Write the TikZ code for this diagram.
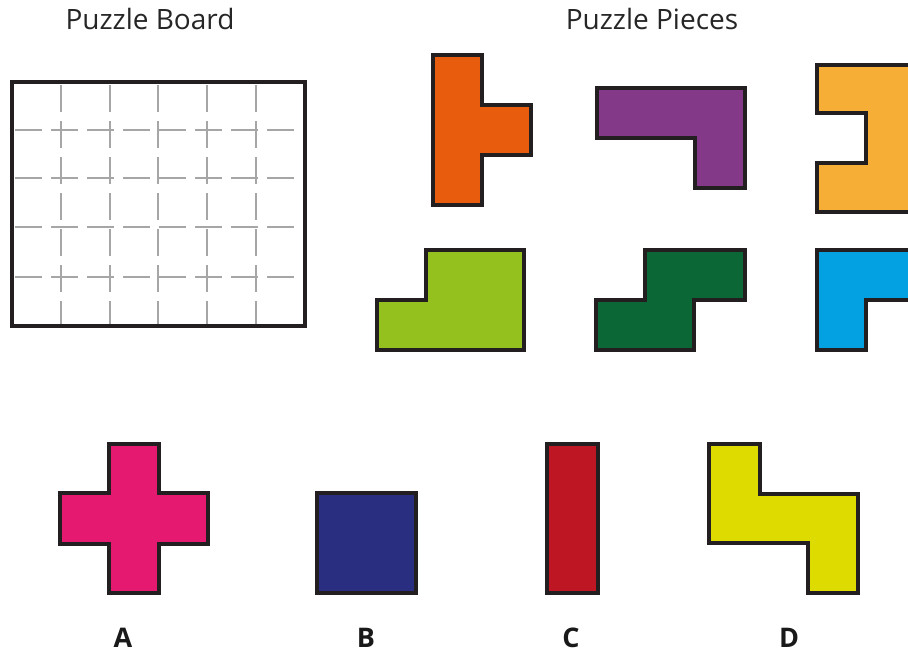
\documentclass[tikz,border=0pt]{standalone}
\usepackage{fontspec}
\setmainfont{Open Sans}
\usetikzlibrary{positioning}
\definecolor{edge}{HTML}{231F20}
\definecolor{gridc}{HTML}{A6A6A6}
\definecolor{porange}{HTML}{E85C0E}
\definecolor{ppurple}{HTML}{833888}
\definecolor{pamber}{HTML}{F7AE37}
\definecolor{plime}{HTML}{95C11F}
\definecolor{pgreen}{HTML}{0B6735}
\definecolor{pblue}{HTML}{03A0E2}
\definecolor{ppink}{HTML}{E5196F}
\definecolor{pnavy}{HTML}{2A2E81}
\definecolor{pred}{HTML}{BE1622}
\definecolor{pyellow}{HTML}{DDDB00}
\tikzset{
  piece/.style={draw=edge, line width=4pt, line join=miter},
  board/.style={draw=edge, line width=4pt},
  gridline/.style={draw=gridc, line width=2pt, dash pattern=on 27pt off 9pt, dash phase=33pt},
  title/.style={font=\fontsize{28}{32}\selectfont, text=black!85, anchor=base, inner sep=0pt},
  tag/.style={font=\fontsize{27}{32}\selectfont\bfseries, text=black!90, anchor=base, inner sep=0pt},
}

\begin{document}
\begin{tikzpicture}[x=1pt, y=-1pt]
\clip (0,0) rectangle (908,654);
\fill[white] (0,0) rectangle (908,654);

% ---- titles ----
\node[title] (tboard)  at (150,29) {Puzzle Board};
\node[title] (tpieces) at (652,29) {Puzzle Pieces};

% ---- board, 6 x 5 ----
\foreach \gx in {61,110,158,207,256} \draw[gridline] (\gx,82) -- (\gx,326);
\foreach \gy in {130,178,227,277} \draw[gridline] (12,\gy) -- (305,\gy);
\draw[board] (12,82) rectangle (305,326);

% ---- pieces, top row ----
\draw[piece, fill=porange] (433,55) -- (482,55) -- (482,105) -- (531,105) -- (531,155) -- (482,155) -- (482,205) -- (433,205) -- cycle;
\draw[piece, fill=ppurple] (597,88) -- (745,88) -- (745,188) -- (695,188) -- (695,138) -- (597,138) -- cycle;
\draw[piece, fill=pamber]  (817,65) -- (920,65) -- (920,212) -- (817,212) -- (817,163) -- (866,163) -- (866,113) -- (817,113) -- cycle;

% ---- pieces, second row ----
\draw[piece, fill=plime]  (426,250) -- (524,250) -- (524,350) -- (377,350) -- (377,300) -- (426,300) -- cycle;
\draw[piece, fill=pgreen] (645,250) -- (745,250) -- (745,300) -- (694,300) -- (694,350) -- (596,350) -- (596,300) -- (645,300) -- cycle;
\draw[piece, fill=pblue]  (817,250) -- (920,250) -- (920,300) -- (866,300) -- (866,350) -- (817,350) -- cycle;

% ---- answer choices ----
\draw[piece, fill=ppink] (109,444) -- (159,444) -- (159,493) -- (208,493) -- (208,544) -- (159,544) -- (159,593) -- (109,593) -- (109,544) -- (60,544) -- (60,493) -- (109,493) -- cycle;
\draw[piece, fill=pnavy] (317,493) rectangle (416,593);
\draw[piece, fill=pred]  (547,444) rectangle (598,593);
\draw[piece, fill=pyellow] (709,444) -- (760,444) -- (760,494) -- (858,494) -- (858,593) -- (808,593) -- (808,543) -- (709,543) -- cycle;

\node[tag] (lA) at (123,647) {A};
\node[tag] (lB) at (366,647) {B};
\node[tag] (lC) at (571,647) {C};
\node[tag] (lD) at (789,647) {D};
\end{tikzpicture}
\end{document}
